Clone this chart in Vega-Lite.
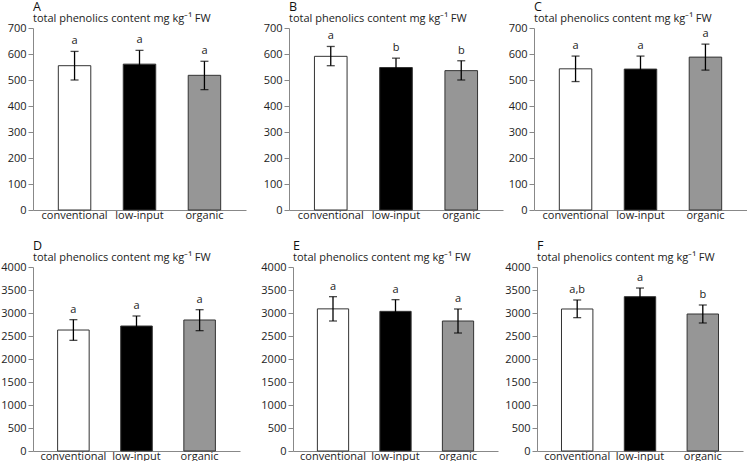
{
  "$schema": "https://vega.github.io/schema/vega-lite/v6.json",
  "padding": {"left": 0, "top": 1, "right": 0, "bottom": 0},
  "autosize": {"type": "pad"},
  "background": "white",
  "config": {
    "view": {"stroke": null},
    "font": "Open Sans",
    "axis": {"labelFont": "Open Sans", "labelFontSize": 11, "labelColor": "#222", "domainColor": "#888", "tickColor": "#888", "grid": false},
    "axisX": {"ticks": false, "labelAngle": 0, "labelPadding": -1},
    "axisY": {"tickSize": 5, "labelPadding": 2, "format": "d", "labelOverlap": false},
    "title": {"anchor": "start", "frame": "group", "font": "Open Sans", "fontSize": 12.5, "fontWeight": "normal", "color": "#111", "subtitleFont": "Open Sans", "subtitleFontSize": 11, "subtitleColor": "#222", "subtitlePadding": -1, "offset": -1.5}
  },
  "datasets": {
    "phen": [
      {"panel": "A", "system": "conventional", "mean": 555, "lower": 500, "upper": 610, "letter": "a"},
      {"panel": "A", "system": "low-input", "mean": 561, "lower": 508, "upper": 614, "letter": "a"},
      {"panel": "A", "system": "organic", "mean": 518, "lower": 463, "upper": 572, "letter": "a"},
      {"panel": "B", "system": "conventional", "mean": 591, "lower": 555, "upper": 629, "letter": "a"},
      {"panel": "B", "system": "low-input", "mean": 548, "lower": 512, "upper": 584, "letter": "b"},
      {"panel": "B", "system": "organic", "mean": 536, "lower": 500, "upper": 574, "letter": "b"},
      {"panel": "C", "system": "conventional", "mean": 543, "lower": 494, "upper": 592, "letter": "a"},
      {"panel": "C", "system": "low-input", "mean": 542, "lower": 492, "upper": 592, "letter": "a"},
      {"panel": "C", "system": "organic", "mean": 588, "lower": 538, "upper": 638, "letter": "a"},
      {"panel": "D", "system": "conventional", "mean": 2630, "lower": 2406, "upper": 2855, "letter": "a"},
      {"panel": "D", "system": "low-input", "mean": 2717, "lower": 2500, "upper": 2935, "letter": "a"},
      {"panel": "D", "system": "organic", "mean": 2848, "lower": 2616, "upper": 3072, "letter": "a"},
      {"panel": "E", "system": "conventional", "mean": 3090, "lower": 2826, "upper": 3355, "letter": "a"},
      {"panel": "E", "system": "low-input", "mean": 3036, "lower": 2780, "upper": 3290, "letter": "a"},
      {"panel": "E", "system": "organic", "mean": 2826, "lower": 2565, "upper": 3087, "letter": "a"},
      {"panel": "F", "system": "conventional", "mean": 3087, "lower": 2899, "upper": 3283, "letter": "a,b"},
      {"panel": "F", "system": "low-input", "mean": 3355, "lower": 3167, "upper": 3543, "letter": "a"},
      {"panel": "F", "system": "organic", "mean": 2978, "lower": 2783, "upper": 3174, "letter": "b"}
    ]
  },
  "spacing": 20,
  "vconcat": [
    {
      "spacing": 5,
      "hconcat": [
        {
          "width": 213, "height": 182,
          "data": {"name": "phen"},
          "transform": [{"filter": "datum.panel === 'A'"}],
          "title": {"text": "A", "subtitle": "total phenolics content mg kg⁻¹ FW"},
          "layer": [
            {"mark": {"type": "bar", "stroke": "#333", "strokeWidth": 1},
             "encoding": {
               "x": {"field": "system", "type": "nominal", "sort": null, "title": null, "scale": {"paddingInner": 0.5, "paddingOuter": 0.39}},
               "y": {"field": "mean", "type": "quantitative", "title": null, "scale": {"domain": [0, 700], "nice": false}, "axis": {"values": [0, 100, 200, 300, 400, 500, 600, 700], "minExtent": 32, "maxExtent": 32}},
               "color": {"field": "system", "type": "nominal", "scale": {"domain": ["conventional", "low-input", "organic"], "range": ["#ffffff", "#000000", "#969696"]}, "legend": null}}},
            {"mark": {"type": "errorbar", "color": "black", "thickness": 1.3, "ticks": {"size": 8, "color": "black"}},
             "encoding": {"x": {"field": "system", "type": "nominal", "sort": null, "title": null}, "y": {"field": "lower", "type": "quantitative", "title": null, "axis": {"values": [0, 100, 200, 300, 400, 500, 600, 700], "minExtent": 32, "maxExtent": 32}}, "y2": {"field": "upper"}}},
            {"mark": {"type": "text", "baseline": "alphabetic", "dy": -7, "fontSize": 11, "color": "#222"},
             "encoding": {"x": {"field": "system", "type": "nominal", "sort": null, "title": null}, "y": {"field": "upper", "type": "quantitative", "title": null, "axis": {"values": [0, 100, 200, 300, 400, 500, 600, 700], "minExtent": 32, "maxExtent": 32}}, "text": {"field": "letter"}}}
          ]
        },
        {
          "width": 214, "height": 182,
          "data": {"name": "phen"},
          "transform": [{"filter": "datum.panel === 'B'"}],
          "title": {"text": "B", "subtitle": "total phenolics content mg kg⁻¹ FW"},
          "layer": [
            {"mark": {"type": "bar", "stroke": "#333", "strokeWidth": 1},
             "encoding": {
               "x": {"field": "system", "type": "nominal", "sort": null, "title": null, "scale": {"paddingInner": 0.5, "paddingOuter": 0.39}},
               "y": {"field": "mean", "type": "quantitative", "title": null, "scale": {"domain": [0, 700], "nice": false}, "axis": {"values": [0, 100, 200, 300, 400, 500, 600, 700], "minExtent": 38, "maxExtent": 38}},
               "color": {"field": "system", "type": "nominal", "scale": {"domain": ["conventional", "low-input", "organic"], "range": ["#ffffff", "#000000", "#969696"]}, "legend": null}}},
            {"mark": {"type": "errorbar", "color": "black", "thickness": 1.3, "ticks": {"size": 8, "color": "black"}},
             "encoding": {"x": {"field": "system", "type": "nominal", "sort": null, "title": null}, "y": {"field": "lower", "type": "quantitative", "title": null, "axis": {"values": [0, 100, 200, 300, 400, 500, 600, 700], "minExtent": 38, "maxExtent": 38}}, "y2": {"field": "upper"}}},
            {"mark": {"type": "text", "baseline": "alphabetic", "dy": -7, "fontSize": 11, "color": "#222"},
             "encoding": {"x": {"field": "system", "type": "nominal", "sort": null, "title": null}, "y": {"field": "upper", "type": "quantitative", "title": null, "axis": {"values": [0, 100, 200, 300, 400, 500, 600, 700], "minExtent": 38, "maxExtent": 38}}, "text": {"field": "letter"}}}
          ]
        },
        {
          "width": 213, "height": 182,
          "data": {"name": "phen"},
          "transform": [{"filter": "datum.panel === 'C'"}],
          "title": {"text": "C", "subtitle": "total phenolics content mg kg⁻¹ FW"},
          "layer": [
            {"mark": {"type": "bar", "stroke": "#333", "strokeWidth": 1},
             "encoding": {
               "x": {"field": "system", "type": "nominal", "sort": null, "title": null, "scale": {"paddingInner": 0.5, "paddingOuter": 0.39}},
               "y": {"field": "mean", "type": "quantitative", "title": null, "scale": {"domain": [0, 700], "nice": false}, "axis": {"values": [0, 100, 200, 300, 400, 500, 600, 700], "minExtent": 26, "maxExtent": 26}},
               "color": {"field": "system", "type": "nominal", "scale": {"domain": ["conventional", "low-input", "organic"], "range": ["#ffffff", "#000000", "#969696"]}, "legend": null}}},
            {"mark": {"type": "errorbar", "color": "black", "thickness": 1.3, "ticks": {"size": 8, "color": "black"}},
             "encoding": {"x": {"field": "system", "type": "nominal", "sort": null, "title": null}, "y": {"field": "lower", "type": "quantitative", "title": null, "axis": {"values": [0, 100, 200, 300, 400, 500, 600, 700], "minExtent": 26, "maxExtent": 26}}, "y2": {"field": "upper"}}},
            {"mark": {"type": "text", "baseline": "alphabetic", "dy": -7, "fontSize": 11, "color": "#222"},
             "encoding": {"x": {"field": "system", "type": "nominal", "sort": null, "title": null}, "y": {"field": "upper", "type": "quantitative", "title": null, "axis": {"values": [0, 100, 200, 300, 400, 500, 600, 700], "minExtent": 26, "maxExtent": 26}}, "text": {"field": "letter"}}}
          ]
        }
      ]
    },
    {
      "spacing": 5,
      "hconcat": [
        {
          "width": 207, "height": 184,
          "data": {"name": "phen"},
          "transform": [{"filter": "datum.panel === 'D'"}],
          "title": {"text": "D", "subtitle": "total phenolics content mg kg⁻¹ FW"},
          "layer": [
            {"mark": {"type": "bar", "stroke": "#333", "strokeWidth": 1},
             "encoding": {
               "x": {"field": "system", "type": "nominal", "sort": null, "title": null, "scale": {"paddingInner": 0.5, "paddingOuter": 0.39}},
               "y": {"field": "mean", "type": "quantitative", "title": null, "scale": {"domain": [0, 4000], "nice": false}, "axis": {"values": [0, 500, 1000, 1500, 2000, 2500, 3000, 3500, 4000], "minExtent": 30, "maxExtent": 30}},
               "color": {"field": "system", "type": "nominal", "scale": {"domain": ["conventional", "low-input", "organic"], "range": ["#ffffff", "#000000", "#969696"]}, "legend": null}}},
            {"mark": {"type": "errorbar", "color": "black", "thickness": 1.3, "ticks": {"size": 8, "color": "black"}},
             "encoding": {"x": {"field": "system", "type": "nominal", "sort": null, "title": null}, "y": {"field": "lower", "type": "quantitative", "title": null, "axis": {"values": [0, 500, 1000, 1500, 2000, 2500, 3000, 3500, 4000], "minExtent": 30, "maxExtent": 30}}, "y2": {"field": "upper"}}},
            {"mark": {"type": "text", "baseline": "alphabetic", "dy": -7, "fontSize": 11, "color": "#222"},
             "encoding": {"x": {"field": "system", "type": "nominal", "sort": null, "title": null}, "y": {"field": "upper", "type": "quantitative", "title": null, "axis": {"values": [0, 500, 1000, 1500, 2000, 2500, 3000, 3500, 4000], "minExtent": 30, "maxExtent": 30}}, "text": {"field": "letter"}}}
          ]
        },
        {
          "width": 205, "height": 184,
          "data": {"name": "phen"},
          "transform": [{"filter": "datum.panel === 'E'"}],
          "title": {"text": "E", "subtitle": "total phenolics content mg kg⁻¹ FW"},
          "layer": [
            {"mark": {"type": "bar", "stroke": "#333", "strokeWidth": 1},
             "encoding": {
               "x": {"field": "system", "type": "nominal", "sort": null, "title": null, "scale": {"paddingInner": 0.5, "paddingOuter": 0.39}},
               "y": {"field": "mean", "type": "quantitative", "title": null, "scale": {"domain": [0, 4000], "nice": false}, "axis": {"values": [0, 500, 1000, 1500, 2000, 2500, 3000, 3500, 4000], "minExtent": 48, "maxExtent": 48}},
               "color": {"field": "system", "type": "nominal", "scale": {"domain": ["conventional", "low-input", "organic"], "range": ["#ffffff", "#000000", "#969696"]}, "legend": null}}},
            {"mark": {"type": "errorbar", "color": "black", "thickness": 1.3, "ticks": {"size": 8, "color": "black"}},
             "encoding": {"x": {"field": "system", "type": "nominal", "sort": null, "title": null}, "y": {"field": "lower", "type": "quantitative", "title": null, "axis": {"values": [0, 500, 1000, 1500, 2000, 2500, 3000, 3500, 4000], "minExtent": 48, "maxExtent": 48}}, "y2": {"field": "upper"}}},
            {"mark": {"type": "text", "baseline": "alphabetic", "dy": -7, "fontSize": 11, "color": "#222"},
             "encoding": {"x": {"field": "system", "type": "nominal", "sort": null, "title": null}, "y": {"field": "upper", "type": "quantitative", "title": null, "axis": {"values": [0, 500, 1000, 1500, 2000, 2500, 3000, 3500, 4000], "minExtent": 48, "maxExtent": 48}}, "text": {"field": "letter"}}}
          ]
        },
        {
          "width": 206, "height": 184,
          "data": {"name": "phen"},
          "transform": [{"filter": "datum.panel === 'F'"}],
          "title": {"text": "F", "subtitle": "total phenolics content mg kg⁻¹ FW"},
          "layer": [
            {"mark": {"type": "bar", "stroke": "#333", "strokeWidth": 1},
             "encoding": {
               "x": {"field": "system", "type": "nominal", "sort": null, "title": null, "scale": {"paddingInner": 0.5, "paddingOuter": 0.39}},
               "y": {"field": "mean", "type": "quantitative", "title": null, "scale": {"domain": [0, 4000], "nice": false}, "axis": {"values": [0, 500, 1000, 1500, 2000, 2500, 3000, 3500, 4000], "minExtent": 34, "maxExtent": 34}},
               "color": {"field": "system", "type": "nominal", "scale": {"domain": ["conventional", "low-input", "organic"], "range": ["#ffffff", "#000000", "#969696"]}, "legend": null}}},
            {"mark": {"type": "errorbar", "color": "black", "thickness": 1.3, "ticks": {"size": 8, "color": "black"}},
             "encoding": {"x": {"field": "system", "type": "nominal", "sort": null, "title": null}, "y": {"field": "lower", "type": "quantitative", "title": null, "axis": {"values": [0, 500, 1000, 1500, 2000, 2500, 3000, 3500, 4000], "minExtent": 34, "maxExtent": 34}}, "y2": {"field": "upper"}}},
            {"mark": {"type": "text", "baseline": "alphabetic", "dy": -7, "fontSize": 11, "color": "#222"},
             "encoding": {"x": {"field": "system", "type": "nominal", "sort": null, "title": null}, "y": {"field": "upper", "type": "quantitative", "title": null, "axis": {"values": [0, 500, 1000, 1500, 2000, 2500, 3000, 3500, 4000], "minExtent": 34, "maxExtent": 34}}, "text": {"field": "letter"}}}
          ]
        }
      ]
    }
  ]
}
